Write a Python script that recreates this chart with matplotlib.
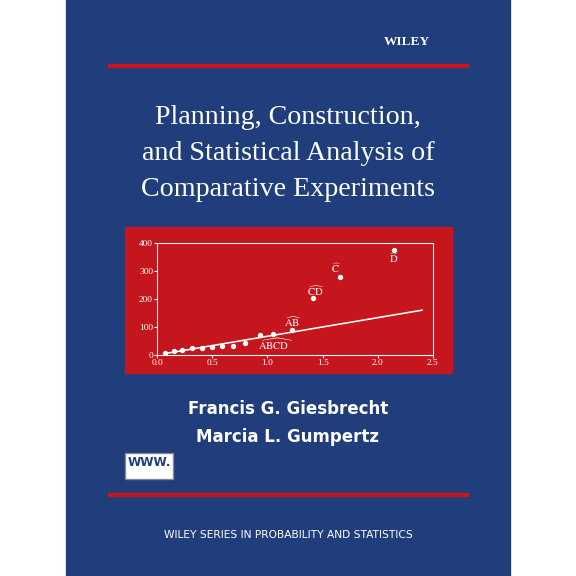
import matplotlib
matplotlib.use("Agg")
import matplotlib.pyplot as plt
import numpy as np
plt.rcParams["mathtext.fontset"] = "stix"

x = [0.07, 0.15, 0.23, 0.32, 0.41, 0.50, 0.59, 0.69, 0.80, 0.93, 1.05, 1.22, 1.41, 1.66, 2.15]
y = [7, 14, 17, 25, 26, 30, 31, 33, 42, 73, 74, 88, 205, 280, 375]
line_x = [0.07, 2.40]
line_y = [5, 160]
labels = [(1.07, 38, r"$\widehat{\mathrm{ABCD}}$"), (1.23, 118, r"$\widehat{\mathrm{AB}}$"),
          (1.44, 230, r"$\widehat{\mathrm{CD}}$"), (1.62, 310, r"$\widehat{\mathrm{C}}$"),
          (2.15, 345, r"$\widehat{\mathrm{D}}$")]

W = 576
navy = "#203d7c"
red = "#c4161c"
fig = plt.figure(figsize=(6, 6), dpi=96, facecolor="white")
bg = fig.add_axes([0, 0, 1, 1]); bg.set_xlim(0, W); bg.set_ylim(W, 0); bg.axis("off")
bg.add_patch(plt.Rectangle((66, 0), 444, 576, color=navy))
bg.add_patch(plt.Rectangle((108, 64), 360, 3, color=red))
bg.add_patch(plt.Rectangle((108, 493), 360, 3, color=red))
bg.add_patch(plt.Rectangle((125, 227), 327, 146, color=red))
bg.text(430, 42, "WILEY", color="white", fontsize=10, fontweight="bold", ha="right", va="center", family="Liberation Serif")
for t, yy in [("Planning, Construction,", 117), ("and Statistical Analysis of", 154), ("Comparative Experiments", 190)]:
    bg.text(288, yy, t, color="white", fontsize=21, ha="center", va="center", family="Liberation Serif")
bg.text(288, 409, "Francis G. Giesbrecht", color="white", fontsize=12.5, fontweight="bold", ha="center", va="center")
bg.text(288, 437, "Marcia L. Gumpertz", color="white", fontsize=12.5, fontweight="bold", ha="center", va="center")
bg.add_patch(plt.Rectangle((125, 453), 48, 26, facecolor="white", edgecolor="#888888"))
bg.text(149, 463, "WWW.", color=navy, fontsize=9, fontweight="bold", ha="center", va="center")
bg.text(288, 535, "WILEY SERIES IN PROBABILITY AND STATISTICS", color="white", fontsize=8, ha="center", va="center")

ax = fig.add_axes([157/W, 1-355/W, (433-157)/W, (355-243)/W])
ax.set_facecolor(red)
ax.plot(x, y, "o", color="white", ms=3)
ax.plot(line_x, line_y, color="white", lw=1.2)
for lx, ly, s in labels:
    ax.text(lx, ly, s, color="white", fontsize=8, ha="center", va="center")
ax.set_xlim(0, 2.5); ax.set_ylim(0, 400)
ax.set_xticks([0, 0.5, 1.0, 1.5, 2.0, 2.5])
ax.set_xticklabels(["0.0", "0.5", "1.0", "1.5", "2.0", "2.5"])
ax.set_yticks([0, 100, 200, 300, 400])
for s in ax.spines.values():
    s.set_color("white"); s.set_linewidth(0.8)
ax.tick_params(colors="white", labelsize=7, length=2, pad=1)
for l in ax.get_xticklabels() + ax.get_yticklabels():
    l.set_family("Liberation Serif")
fig.savefig("out.png", dpi=96, facecolor="white")
